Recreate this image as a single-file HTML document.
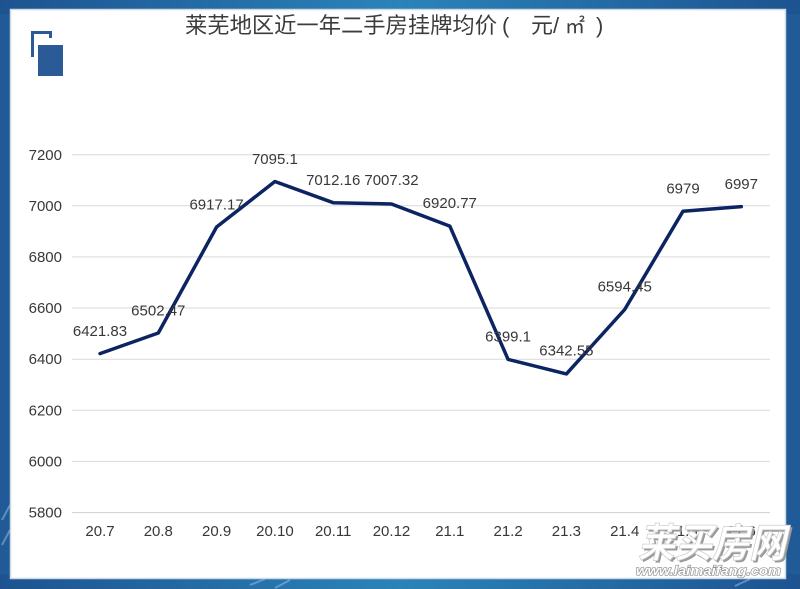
<!DOCTYPE html>
<html>
<head>
<meta charset="utf-8">
<style>
  html,body{margin:0;padding:0;}
  body{width:800px;height:589px;overflow:hidden;background:#215b97;}
  svg{display:block;}
</style>
</head>
<body>
<svg width="800" height="589" viewBox="0 0 800 589" xmlns="http://www.w3.org/2000/svg">
  <defs>
    <linearGradient id="bg" x1="0" y1="0" x2="1" y2="0">
      <stop offset="0" stop-color="#1d5390"/>
      <stop offset="0.5" stop-color="#2b83ba"/>
      <stop offset="1" stop-color="#1d5390"/>
    </linearGradient>
  </defs>
  <rect x="0" y="0" width="800" height="589" fill="url(#bg)"/>
  <rect x="0" y="14" width="800" height="560" fill="#215b97"/>
  <!-- faint border watermark strokes -->
  <g stroke="#9fc0dd" stroke-width="2" fill="none" opacity="0.5">
    <path d="M2 520 L10 505 M2 545 L10 530"/>
    <path d="M250 585 L265 579 M275 588 L290 580 M735 586 L750 579"/>
  </g>
  <!-- inner panel -->
  <rect x="10.5" y="9.5" width="775" height="569" fill="#ffffff" stroke="#cdd9e5" stroke-width="1.5"/>

  <!-- logo -->
  <g fill="#2a5b97">
    <rect x="31" y="31" width="21" height="3"/>
    <rect x="31" y="31" width="3" height="26"/>
    <rect x="49" y="31" width="3" height="7"/>
    <rect x="38" y="45" width="25" height="31"/>
  </g>

  <!-- title -->
  <g fill="#3c3c3c" font-size="22">
    <text x="185" y="33" textLength="312" lengthAdjust="spacingAndGlyphs" font-family="'Liberation Sans','Noto Sans CJK SC',sans-serif">莱芜地区近一年二手房挂牌均价</text>
    <text x="502" y="33" font-family="'Liberation Sans',sans-serif">(</text>
    <text x="531" y="33" font-family="'Liberation Sans','Noto Sans CJK SC',sans-serif">元</text>
    <text x="553" y="33" font-family="'Liberation Sans',sans-serif">/</text>
    <text x="565" y="33" font-size="20" font-family="'Liberation Sans','Noto Sans CJK SC',sans-serif">㎡</text>
    <text x="596" y="33" font-family="'Liberation Sans',sans-serif">)</text>
  </g>

  <!-- gridlines -->
  <g stroke="#d9d9d9" stroke-width="1">
    <line x1="72" y1="154.7" x2="770" y2="154.7"/>
    <line x1="72" y1="205.8" x2="770" y2="205.8"/>
    <line x1="72" y1="256.9" x2="770" y2="256.9"/>
    <line x1="72" y1="308.0" x2="770" y2="308.0"/>
    <line x1="72" y1="359.2" x2="770" y2="359.2"/>
    <line x1="72" y1="410.3" x2="770" y2="410.3"/>
    <line x1="72" y1="461.4" x2="770" y2="461.4"/>
    <line x1="72" y1="512.6" x2="770" y2="512.6" stroke="#d0d0d0"/>
  </g>

  <!-- y labels -->
  <g fill="#383838" font-size="15" font-family="'Liberation Sans',sans-serif" text-anchor="end">
    <text x="62" y="160">7200</text>
    <text x="62" y="211">7000</text>
    <text x="62" y="262">6800</text>
    <text x="62" y="313">6600</text>
    <text x="62" y="364">6400</text>
    <text x="62" y="415.5">6200</text>
    <text x="62" y="466.5">6000</text>
    <text x="62" y="517.5">5800</text>
  </g>

  <!-- x labels -->
  <g fill="#383838" font-size="15" font-family="'Liberation Sans',sans-serif" text-anchor="middle">
    <text x="100" y="536">20.7</text>
    <text x="158.3" y="536">20.8</text>
    <text x="216.6" y="536">20.9</text>
    <text x="274.9" y="536">20.10</text>
    <text x="333.2" y="536">20.11</text>
    <text x="391.5" y="536">20.12</text>
    <text x="449.8" y="536">21.1</text>
    <text x="508.1" y="536">21.2</text>
    <text x="566.4" y="536">21.3</text>
    <text x="624.7" y="536">21.4</text>
    <text x="683" y="536">21.5</text>
    <text x="741.3" y="536">21.6</text>
  </g>

  <!-- series line -->
  <polyline fill="none" stroke="#0c2461" stroke-width="3.5" stroke-linejoin="round" stroke-linecap="round"
    points="100,353.6 158.3,333.0 216.6,227.0 274.9,181.5 333.2,202.7 391.5,204.0 449.8,226.1 508.1,359.4 566.4,373.9 624.7,309.5 683,211.2 741.3,206.6"/>

  <!-- data labels -->
  <g fill="#383838" font-size="15" font-family="'Liberation Sans',sans-serif" text-anchor="middle">
    <text x="100" y="336">6421.83</text>
    <text x="158.3" y="315.5">6502.47</text>
    <text x="216.6" y="209.5">6917.17</text>
    <text x="274.9" y="164">7095.1</text>
    <text x="333.2" y="185">7012.16</text>
    <text x="391.5" y="185">7007.32</text>
    <text x="449.8" y="208">6920.77</text>
    <text x="508.1" y="341.5">6399.1</text>
    <text x="566.4" y="355.5">6342.55</text>
    <text x="624.7" y="291.5">6594.45</text>
    <text x="683" y="193.5">6979</text>
    <text x="741.3" y="189">6997</text>
  </g>

  <!-- watermark -->
  <g font-family="'Liberation Sans','Noto Sans CJK SC',sans-serif" font-weight="bold" font-style="italic">
    <text x="638" y="557" font-size="40" fill="#9a9a9a" textLength="148" lengthAdjust="spacingAndGlyphs" transform="translate(2,2)">莱买房网</text>
    <text x="638" y="557" font-size="40" fill="#ffffff" stroke="#d0d0d0" stroke-width="0.8" textLength="148" lengthAdjust="spacingAndGlyphs">莱买房网</text>
    <text x="636" y="575" font-size="13" fill="#ffffff" stroke="#8c8c8c" stroke-width="1.2" paint-order="stroke" textLength="145" lengthAdjust="spacingAndGlyphs">www.laimaifang.com</text>
  </g>
</svg>
</body>
</html>
